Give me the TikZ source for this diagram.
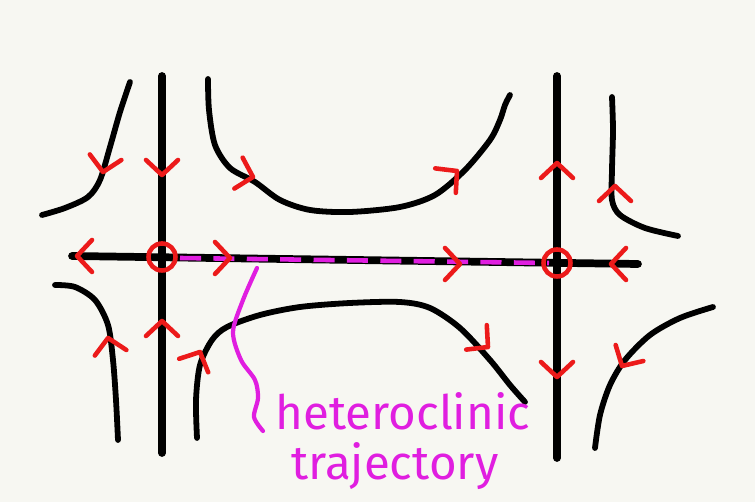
\documentclass[tikz,border=0pt]{standalone}
\usepackage{fontspec}
\setmainfont{Fira Sans}
\usetikzlibrary{calc}
\definecolor{paper}{HTML}{F7F7F2}
\definecolor{flow}{HTML}{EC1A1A}
\definecolor{hetero}{HTML}{E01EE0}

\begin{document}
\begin{tikzpicture}[x=0.02cm, y=-0.02cm,
    axis/.style={line width=4.4pt, line cap=round},
    orbit/.style={line width=3.3pt, line cap=round, line join=round},
    saddle/.style={flow, line width=2.6pt},
    chev/.pic={\draw[flow, line width=2.6pt, line cap=round, line join=round] (-15,16) -- (0,0) -- (-15,-16);},
    hlabel/.style={hetero, font=\fontsize{27}{30}\selectfont, anchor=base, inner sep=0pt}]
  \fill[paper] (0,0) rectangle (755,502);
  \useasboundingbox (0,0) rectangle (755,502);

  % saddle points
  \coordinate (sL) at (162,257);
  \coordinate (sR) at (557,263);

  % separatrices
  \draw[axis] (162,76) -- (162,453);
  \draw[axis] (557,76) -- (557,458);
  \draw[axis] (72,256) -- (638,264);
  \draw[hetero, line width=2.6pt, dash pattern=on 12pt off 7pt] ($(sL)+(18,1)$) -- ($(sR)+(-8,0)$);

  % other orbits
  \draw[orbit] plot[smooth] coordinates {(130,82) (120,112) (110,147) (100,180) (88,197) (65,208) (42,215)};
  \draw[orbit] plot[smooth] coordinates {(208,79) (209,110) (215,145) (230,168) (255,182) (280,200) (310,210) (350,212) (400,207) (435,195) (465,170) (490,140) (500,120) (505,105) (510,95)};
  \draw[orbit] plot[smooth] coordinates {(612,97) (613,130) (612,170) (612,200) (620,215) (645,228) (678,236)};
  \draw[orbit] plot[smooth] coordinates {(55,285) (75,287) (95,300) (108,325) (113,360) (116,400) (118,440)};
  \draw[orbit] plot[smooth] coordinates {(197,438) (196,400) (200,365) (212,340) (227,327) (260,315) (300,307) (350,303) (400,302) (430,308) (460,328) (490,360) (510,385) (525,402)};
  \draw[orbit] plot[smooth] coordinates {(713,307) (680,318) (650,335) (625,360) (610,385) (600,415) (595,448)};

  % directions of flow
  \foreach \px/\py/\ang in {162/175/-90, 162/321/90, 77/256/180, 230/258/0,
      460/264/0, 611/264/180, 557/163/90, 557/377/-90,
      103/172/-100, 253/177/-15, 457/171/40, 615/186/90,
      108/338/100, 200/352/65, 488/347/-40, 622/366/-120}
    \pic[rotate=\ang] at (\px,\py) {chev};

  \draw[saddle] (sL) circle[radius=0.27cm];
  \draw[saddle] (sR) circle[radius=0.27cm];

  % label
  \node[hlabel] (lab) at (403,430) {heteroclinic};
  \node[hlabel] (lab2) at (395,480) {trajectory};
  \coordinate (hc) at (257,268);
  \draw[hetero, line width=2.4pt, line cap=round] plot[smooth] coordinates {(hc) (243,300) (233,332) (241,360) (255,380) (258,398) (254,417) (263,431)};
\end{tikzpicture}
\end{document}
